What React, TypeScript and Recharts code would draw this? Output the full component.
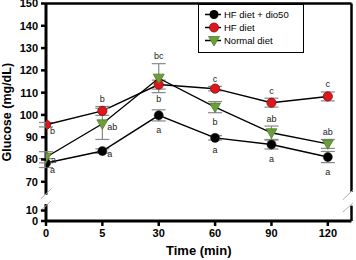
import { LineChart, Line, XAxis, YAxis, ErrorBar, LabelList, ReferenceLine, Legend } from "recharts";

const FONT = '"Liberation Sans", Arial, Helvetica, sans-serif';

const timeLabels = ["0", "5", "30", "60", "90", "120"];
const seriesNames = ["HF diet + dio50", "HF diet", "Normal diet"];

const dio50 = [78.4, 83.8, 99.8, 89.7, 86.7, 81.1];
const dio50Err = [2, 1, 2.5, 1, 2, 2.5];
const dio50Letters = ["a", "a", "a", "a", "a", "a"];

const hfDiet = [95.6, 101.8, 113.6, 111.8, 105.5, 108.3];
const hfDietErr = [1, 2, 2, 1, 2, 2];
const hfDietLetters = ["b", "b", "b", "c", "c", "c"];

const normalDiet = [81, 96, 116.5, 103.5, 92, 87];
const normalDietErr = [2.5, 7, 6.5, 2.5, 3, 2];
const normalDietLetters = ["a", "ab", "bc", "b", "ab", "ab"];

// y-axis labels; the axis is broken between 10 and 70
const yTickLabels = [0, 10, 70, 80, 90, 100, 110, 120, 130, 140, 150];

// where each significance letter sits relative to its point
type Place = "above" | "below" | "right" | "belowRight";
const dio50Place: Place[] = ["belowRight", "right", "below", "below", "below", "below"];
const hfDietPlace: Place[] = ["belowRight", "above", "below", "above", "above", "above"];
const normalDietPlace: Place[] = ["right", "right", "above", "below", "above", "above"];

// the broken segment 0..10 is squeezed below 70
const LOW_BASE = 52.4;
const LOW_RATE = 0.47;
const toAxis = (v: number) => (v >= 70 ? v : LOW_BASE + v * LOW_RATE);
const X_MAX = 5.42;

const anchor = (v: number, err: number, p: Place) => (p === "above" ? v + err : p === "below" ? v - err : v);

const data = timeLabels.map((_, i) => ({
  idx: i,
  dio50: dio50[i],
  dio50Err: dio50Err[i],
  dio50Tag: anchor(dio50[i], dio50Err[i], dio50Place[i]),
  dio50Letter: dio50Letters[i],
  hfDiet: hfDiet[i],
  hfDietErr: hfDietErr[i],
  hfDietTag: anchor(hfDiet[i], hfDietErr[i], hfDietPlace[i]),
  hfDietLetter: hfDietLetters[i],
  normalDiet: normalDiet[i],
  normalDietErr: normalDietErr[i],
  normalDietTag: anchor(normalDiet[i], normalDietErr[i], normalDietPlace[i]),
  normalDietLetter: normalDietLetters[i],
}));

const GREEN = "#6c9e3c";
const RED = "#e0161c";

const letterRenderer = (places: Place[]) => (props: any) => {
  const vb = props.viewBox ?? {};
  const x = props.x ?? vb.x;
  const y = props.y ?? vb.y;
  if (x == null || y == null) return null;
  const p = places[props.index] ?? "above";
  let dx = 0;
  let dy = -4.5;
  let anchorText: "middle" | "start" = "middle";
  if (p === "below") dy = 12.5;
  if (p === "right") {
    dx = 5;
    dy = 6;
    anchorText = "start";
  }
  if (p === "belowRight") {
    dx = 4;
    dy = 9.5;
    anchorText = "start";
  }
  return (
    <text key={props.index} x={x + dx} y={y + dy} textAnchor={anchorText} fontSize={9} fontFamily={FONT} fill="#222">
      {props.value}
    </text>
  );
};

const triangle = (cx: number, cy: number) =>
  `M${cx - 5.5},${cy - 4}L${cx + 5.5},${cy - 4}L${cx},${cy + 5.5}Z`;

const TriangleDot = (props: any) => {
  const { cx, cy, index } = props;
  if (cx == null || cy == null) return <g key={index} />;
  return <path key={index} d={triangle(cx, cy)} fill={GREEN} stroke="#4f7d2a" strokeWidth={0.8} />;
};

const renderMarker = (key: string, y: number) => {
  if (key === "normalDiet") return <path d={triangle(15, y)} fill={GREEN} stroke="#4f7d2a" strokeWidth={0.8} />;
  if (key === "hfDiet") return <circle cx={15} cy={y} r={4.5} fill={RED} stroke="#7a1010" strokeWidth={0.8} />;
  return <circle cx={15} cy={y} r={4.5} fill="#000" />;
};

const renderLegend = (props: any) => {
  const items = (props.payload ?? [])
    .filter((p: any) => p.type !== "none" && seriesNames.includes(p.value))
    .sort((a: any, b: any) => seriesNames.indexOf(a.value) - seriesNames.indexOf(b.value));
  return (
    <div
      style={{
        width: 106,
        height: 49,
        boxSizing: "border-box",
        border: "1.5px solid #000",
        background: "#fff",
      }}
    >
      <svg width={103} height={46}>
        {items.map((item: any, i: number) => {
          const y = 9.5 + i * 13;
          return (
            <g key={item.value}>
              <line x1={6} x2={22} y1={y} y2={y} stroke="#000" strokeWidth={1.5} />
              {renderMarker(item.dataKey, y)}
              <text x={25} y={y + 3.5} fontSize={9.5} fontFamily={FONT} fill="#000">
                {item.value}
              </text>
            </g>
          );
        })}
      </svg>
    </div>
  );
};

const axisSeg = (x: number, y1: number, y2: number, w: number, key: string) => (
  <ReferenceLine
    key={key}
    segment={[
      { x, y: y1 },
      { x, y: y2 },
    ]}
    stroke="#000"
    strokeWidth={w}
    ifOverflow="visible"
  />
);

const slash = (x1: number, y1: number, x2: number, y2: number, key: string) => (
  <ReferenceLine
    key={key}
    segment={[
      { x: x1, y: y1 },
      { x: x2, y: y2 },
    ]}
    stroke="#b0b0b0"
    strokeWidth={1}
    ifOverflow="visible"
  />
);

export default function App() {
  return (
    <div style={{ position: "absolute", left: 0, top: 0, width: 356, height: 260, background: "#fff" }}>
      <LineChart
        width={356}
        height={260}
        data={data}
        margin={{ top: 3.5, right: 4.5, bottom: 3, left: 0 }}
        style={{ fontFamily: FONT }}
      >
        <XAxis
          type="number"
          dataKey="idx"
          domain={[0, X_MAX]}
          ticks={[0, 1, 2, 3, 4, 5]}
          interval={0}
          allowDataOverflow
          tickFormatter={(v: number) => timeLabels[v]}
          height={36}
          axisLine={{ stroke: "#000", strokeWidth: 3 }}
          tickLine={{ stroke: "#000", strokeWidth: 2.5 }}
          tickSize={5}
          tickMargin={3}
          tick={{ fontSize: 11, fontWeight: "bold", fill: "#000" }}
          label={{
            value: "Time (min)",
            position: "insideBottom",
            offset: 2,
            style: { fontSize: 13, fontWeight: "bold", fill: "#000" },
          }}
        />
        <YAxis
          type="number"
          domain={[LOW_BASE, 150]}
          allowDataOverflow
          ticks={yTickLabels.map(toAxis)}
          interval={0}
          tickFormatter={(_: number, i: number) => String(yTickLabels[i])}
          width={46}
          axisLine={false}
          tickLine={{ stroke: "#000", strokeWidth: 2.5 }}
          tickSize={5}
          tickMargin={3}
          tick={{ fontSize: 11, fontWeight: "bold", fill: "#000" }}
          label={{
            value: "Glucose (mg/dL)",
            angle: -90,
            position: "insideLeft",
            offset: 7,
            style: { textAnchor: "middle", fontSize: 12.5, fontWeight: "bold", fill: "#000" },
          }}
        />
        {axisSeg(0, LOW_BASE, 60, 3, "l1")}
        {axisSeg(0, 64.2, 150, 3, "l2")}
        {axisSeg(X_MAX, LOW_BASE, 59.3, 2.5, "r1")}
        {axisSeg(X_MAX, 65.5, 150, 2.5, "r2")}
        <ReferenceLine y={150} stroke="#000" strokeWidth={2.5} ifOverflow="visible" />
        {slash(-0.094, 62.3, 0.094, 66.9, "s1")}
        {slash(-0.11, 56.75, 0.094, 61.5, "s2")}
        {slash(5.266, 61.9, 5.443, 66.2, "s3")}
        {slash(5.266, 56.4, 5.443, 60.4, "s4")}
        <Legend
          layout="vertical"
          align="center"
          verticalAlign="middle"
          wrapperStyle={{ top: 4, left: 198, width: 106 }}
          content={renderLegend}
        />
        <Line
          dataKey="dio50"
          name={seriesNames[0]}
          stroke="#000"
          strokeWidth={1.5}
          dot={{ r: 4.6, fill: "#000", stroke: "#333", strokeWidth: 0.5 }}
          activeDot={false}
          isAnimationActive={false}
        >
          <ErrorBar dataKey="dio50Err" direction="y" width={7} stroke="#888" strokeWidth={1.2} />
        </Line>
        <Line
          dataKey="hfDiet"
          name={seriesNames[1]}
          stroke="#000"
          strokeWidth={1.5}
          dot={{ r: 4.6, fill: RED, stroke: "#7a1010", strokeWidth: 0.8 }}
          activeDot={false}
          isAnimationActive={false}
        >
          <ErrorBar dataKey="hfDietErr" direction="y" width={7} stroke="#888" strokeWidth={1.2} />
        </Line>
        <Line
          dataKey="normalDiet"
          name={seriesNames[2]}
          stroke="#000"
          strokeWidth={1.3}
          dot={TriangleDot}
          activeDot={false}
          isAnimationActive={false}
        >
          <ErrorBar dataKey="normalDietErr" direction="y" width={7} stroke="#888" strokeWidth={1.2} />
        </Line>
        <Line dataKey="dio50Tag" stroke="none" dot={false} activeDot={false} legendType="none" isAnimationActive={false}>
          <LabelList dataKey="dio50Letter" content={letterRenderer(dio50Place)} />
        </Line>
        <Line dataKey="hfDietTag" stroke="none" dot={false} activeDot={false} legendType="none" isAnimationActive={false}>
          <LabelList dataKey="hfDietLetter" content={letterRenderer(hfDietPlace)} />
        </Line>
        <Line
          dataKey="normalDietTag"
          stroke="none"
          dot={false}
          activeDot={false}
          legendType="none"
          isAnimationActive={false}
        >
          <LabelList dataKey="normalDietLetter" content={letterRenderer(normalDietPlace)} />
        </Line>
      </LineChart>
    </div>
  );
}
